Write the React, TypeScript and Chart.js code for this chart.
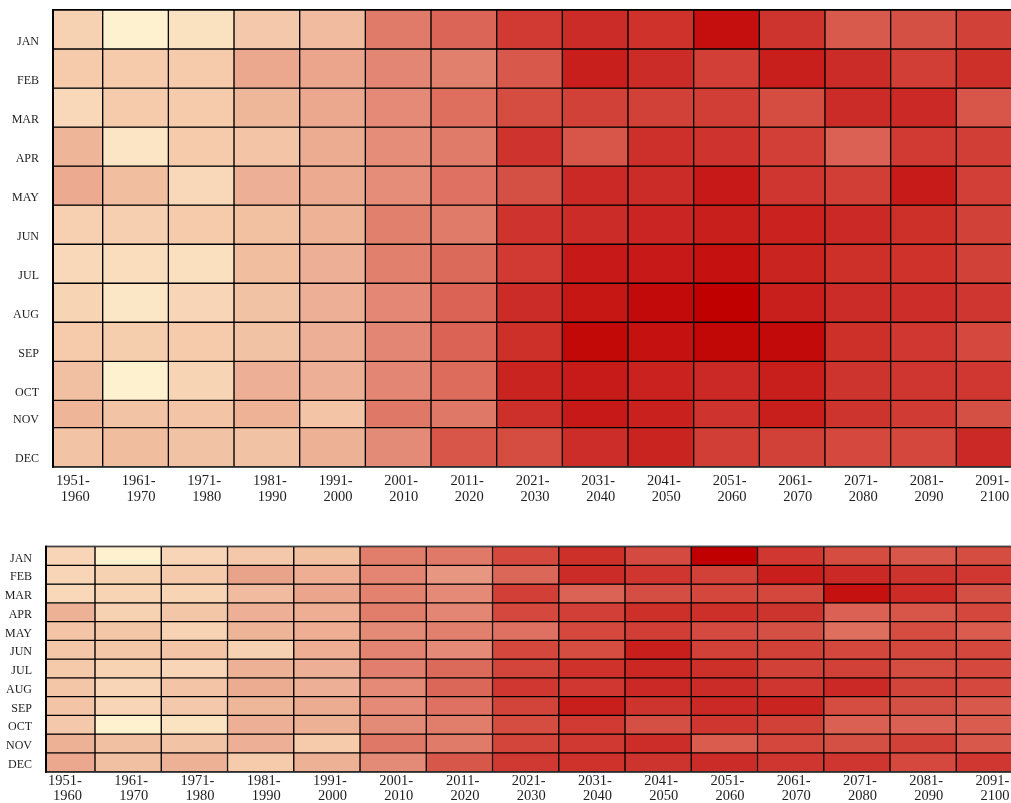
import React, { useEffect, useRef } from 'react';
import { Chart, registerables } from 'chart.js';

Chart.register(...registerables);

// ---------- data ----------
const decades = [
  '1951-1960', '1961-1970', '1971-1980', '1981-1990', '1991-2000',
  '2001-2010', '2011-2020', '2021-2030', '2031-2040', '2041-2050',
  '2051-2060', '2061-2070', '2071-2080', '2081-2090', '2091-2100',
];

const months = ['JAN', 'FEB', 'MAR', 'APR', 'MAY', 'JUN', 'JUL', 'AUG', 'SEP', 'OCT', 'NOV', 'DEC'];

const topJan = [2.5, 0, 1.2, 3.2, 4.2, 8.3, 9.6, 12, 13, 12.6, 15, 12.4, 10.2, 10.8, 11.6];
const topFeb = [3, 3, 3, 5.5, 5.7, 7.6, 8, 10.3, 14, 13, 11.7, 14, 13, 11.8, 12.8];
const topMar = [2, 3, 3, 4.5, 5.5, 7.4, 9, 11, 11.6, 11.6, 11.8, 11, 13, 13.2, 10.5];
const topApr = [4.6, 1, 3, 3.5, 5.2, 7.2, 8.3, 12.5, 10.5, 12.7, 12.5, 11.7, 9.8, 12, 11.8];
const topMay = [5.3, 4, 2, 5, 5.3, 7.2, 8.9, 10.8, 13.2, 13, 14.3, 12.3, 11.8, 14.2, 11.7];
const topJun = [2.6, 2.7, 3, 3.8, 4.8, 8, 8.3, 12.5, 13, 13.5, 13.9, 13.7, 13.2, 12.8, 11.6];
const topJul = [2, 1.6, 1.4, 4, 5, 8, 9.3, 12, 14.3, 14.3, 14.8, 13.6, 12.8, 12.6, 11.6];
const topAug = [2.3, 0.9, 2.2, 3.7, 5, 7.5, 9.7, 13, 14.5, 15.3, 16, 14, 13, 12.9, 12.3];
const topSep = [3, 2.8, 3, 3.7, 5, 7.6, 9.7, 12.8, 15.4, 14.8, 15.5, 15.3, 12.8, 12.2, 11.2];
const topOct = [3.9, 0, 2.3, 5, 5, 7.6, 9.2, 13.6, 14.2, 13.7, 13.2, 13.9, 12.4, 12.3, 12.2];
const topNov = [4.6, 3.6, 3.5, 4.8, 3.5, 8.5, 8.5, 12.7, 14.3, 13.8, 12.5, 13.9, 12.4, 11.9, 10.8];
const topDec = [3.6, 4.1, 3.7, 3.7, 4.9, 7.3, 10.5, 11, 12.9, 13.6, 11.8, 11.6, 11.2, 11.3, 13.2];

const bottomJan = [2.2, 0, 2.2, 3.2, 3.8, 8.2, 8.4, 11.2, 12.8, 11.1, 16, 12.2, 11, 10.4, 11];
const bottomFeb = [2.2, 2.5, 3.1, 5.8, 5.1, 7.7, 6.6, 9.5, 13, 12.3, 11.6, 14, 13.2, 12.4, 12.2];
const bottomMar = [2, 2.3, 2.3, 4.2, 5.7, 7.9, 7.4, 11.7, 9.7, 10.9, 11.3, 11.3, 14.8, 13.1, 10.8];
const bottomApr = [4.9, 2.5, 3.4, 5, 5.1, 8.2, 7.6, 11.2, 11.7, 12.8, 12.8, 12.4, 9.8, 10.5, 11.3];
const bottomMay = [3.5, 3.4, 2.4, 4.7, 5.1, 7.3, 8, 8.9, 11.2, 11.8, 11.1, 10.8, 9, 11, 10.1];
const bottomJun = [3.3, 3.3, 3.5, 2.5, 5.1, 7.8, 7.4, 11.3, 11, 13.9, 11.6, 11.6, 11.3, 11.3, 11.3];
const bottomJul = [3.1, 2.4, 2.2, 4.9, 5, 8.1, 9.3, 11.4, 12.6, 13.3, 12.8, 11.6, 11.6, 11, 11.2];
const bottomAug = [3.4, 2.2, 3.5, 5.2, 5, 7.4, 9.5, 12.2, 12.2, 13.2, 13, 12.3, 13.2, 11.5, 11.2];
const bottomSep = [3.5, 2.2, 3.2, 4.5, 5.2, 7.4, 8.9, 11.5, 14, 12.4, 13.2, 13.6, 11, 10.8, 10.3];
const bottomOct = [3.2, 0, 1.1, 5, 4.9, 7.3, 8.2, 11, 12, 10.8, 12.3, 11.6, 9.9, 9.9, 10.1];
const bottomNov = [4.9, 3.9, 3.6, 5, 3, 8.5, 8.3, 11.4, 12.1, 12.9, 10.1, 11.3, 10.8, 11.6, 10.3];
const bottomDec = [5.5, 3.9, 4.9, 3, 4.9, 7.3, 10.4, 12.1, 12.6, 12.4, 13, 12.3, 12.3, 11.2, 12.2];

const topRows = [topJan, topFeb, topMar, topApr, topMay, topJun, topJul, topAug, topSep, topOct, topNov, topDec];
const bottomRows = [bottomJan, bottomFeb, bottomMar, bottomApr, bottomMay, bottomJun, bottomJul, bottomAug, bottomSep, bottomOct, bottomNov, bottomDec];

// ---------- styling ----------
const topRowSpans = months.map((m) => (m === 'NOV' ? 0.7 : 1));
const bottomRowSpans = months.map(() => 1);

const colorStops = [
  [254, 241, 207], [248, 216, 184], [241, 190, 160], [233, 160, 137],
  [226, 128, 110], [217, 94, 80], [208, 58, 50], [200, 30, 28], [192, 0, 0],
];
const LEVEL_MAX = 16;

function colorFor(v: number): string {
  const t = Math.max(0, Math.min(1, v / LEVEL_MAX)) * (colorStops.length - 1);
  const i = Math.min(colorStops.length - 2, Math.floor(t));
  const f = t - i;
  const a = colorStops[i];
  const b = colorStops[i + 1];
  const c = a.map((x, k) => Math.round(x + (b[k] - x) * f));
  return `rgb(${c[0]},${c[1]},${c[2]})`;
}

const FONT = "'Liberation Serif', 'Times New Roman', Times, serif";
const TEXT = '#1e1e1e';

const framePlugin = {
  id: 'frame',
  afterDatasetsDraw(chart: any) {
    const { ctx, chartArea: a } = chart;
    ctx.save();
    ctx.fillStyle = '#000';
    ctx.fillRect(a.left - 1, a.top - 1, a.right - a.left + 1, 1);
    ctx.fillRect(a.left - 1, a.bottom, a.right - a.left + 1, 1);
    ctx.fillRect(a.left - 1, a.top - 1, 2, a.bottom - a.top + 2);
    ctx.restore();
  },
};

function zeroPadding(s: any) {
  s.paddingTop = 0;
  s.paddingBottom = 0;
  s.paddingLeft = 0;
  s.paddingRight = 0;
}

type HeatProps = {
  rows: number[][];
  spans: number[];
  width: number;
  height: number;
  top: number;
  padTop: number;
  yWidth: number;
  xHeight: number;
  xMin: number;
  xMax: number;
  xPad: number;
  yPad: number;
  yLabelOffset: number;
};

function Heatmap(p: HeatProps) {
  const ref = useRef<HTMLCanvasElement | null>(null);
  useEffect(() => {
    const bounds: number[] = [];
    let acc = 0;
    p.spans.forEach((s) => {
      acc += s;
      bounds.push(acc);
    });
    const datasets = months.map((m, r) => ({
      label: m,
      data: decades.map((_, c) => ({ x: c, y: p.spans[r] })),
      backgroundColor: p.rows[r].map(colorFor),
      borderColor: '#000',
      borderWidth: 1,
      borderSkipped: false,
      barPercentage: 1,
      categoryPercentage: 1,
      clip: 0,
    }));
    const chart = new Chart(ref.current as HTMLCanvasElement, {
      type: 'bar',
      data: { datasets } as any,
      options: {
        responsive: false,
        animation: false,
        events: [],
        layout: { padding: { top: p.padTop, left: 0, right: 0, bottom: 0 } },
        plugins: { legend: { display: false }, tooltip: { enabled: false } },
        scales: {
          x: {
            type: 'linear',
            min: p.xMin,
            max: p.xMax,
            offset: false,
            stacked: true,
            grid: { display: false, drawTicks: false, offset: false },
            border: { display: false },
            afterBuildTicks: (s: any) => {
              s.ticks = decades.map((_, i) => ({ value: i }));
            },
            afterFit: (s: any) => {
              s.height = p.xHeight;
              zeroPadding(s);
            },
            ticks: {
              autoSkip: false,
              maxRotation: 0,
              minRotation: 0,
              align: 'end',
              labelOffset: 20,
              padding: p.xPad,
              color: TEXT,
              font: { family: FONT, size: 14.5, lineHeight: 1.09 },
              callback: (_v: any, i: number) => {
                const [a, b] = decades[i].split('-');
                return [a + '-', b];
              },
            },
          },
          y: {
            type: 'linear',
            reverse: true,
            stacked: true,
            min: 0,
            max: acc,
            grid: { display: false, drawTicks: false },
            border: { display: false },
            afterBuildTicks: (s: any) => {
              s.ticks = bounds.map((v) => ({ value: v }));
            },
            afterFit: (s: any) => {
              s.width = p.yWidth;
              zeroPadding(s);
            },
            ticks: {
              autoSkip: false,
              padding: p.yPad,
              labelOffset: p.yLabelOffset,
              color: TEXT,
              font: { family: FONT, size: 12 },
              callback: (_v: any, i: number) => months[i],
            },
          },
        },
      } as any,
      plugins: [framePlugin],
    });
    return () => chart.destroy();
  }, []);
  return (
    <canvas
      ref={ref}
      width={p.width}
      height={p.height}
      style={{ position: 'absolute', left: 0, top: p.top, display: 'block' }}
    />
  );
}

export default function App() {
  useEffect(() => {
    document.body.style.margin = '0';
    document.body.style.overflow = 'hidden';
  }, []);
  return (
    <div style={{ position: 'relative', width: 1011, height: 803, background: '#fff', overflow: 'hidden' }}>
      <Heatmap
        rows={topRows}
        spans={topRowSpans}
        width={1011}
        height={510}
        top={0}
        padTop={10}
        yWidth={53}
        xHeight={43.3}
        xMin={-0.257}
        xMax={14.333}
        xPad={7}
        yPad={14}
        yLabelOffset={-7.5}
      />
      <Heatmap
        rows={bottomRows}
        spans={bottomRowSpans}
        width={1011}
        height={293}
        top={510}
        padTop={36.7}
        yWidth={46}
        xHeight={31.3}
        xMin={-0.24}
        xMax={14.326}
        xPad={1.2}
        yPad={14}
        yLabelOffset={-7}
      />
    </div>
  );
}
